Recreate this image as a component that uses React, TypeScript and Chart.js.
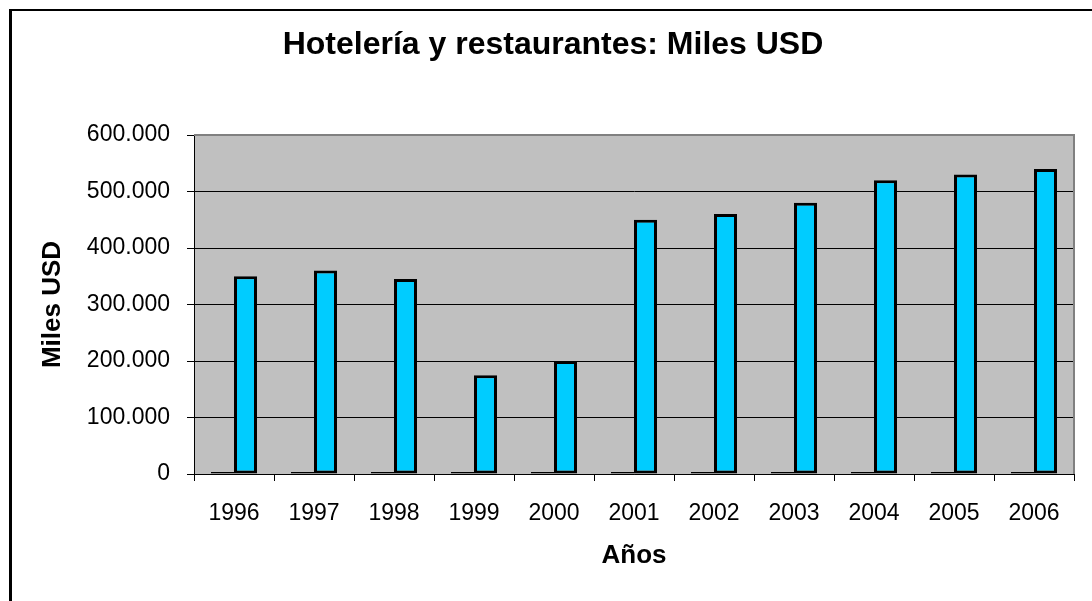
import React, { useEffect, useRef } from "react";
import { Chart, registerables } from "chart.js";

Chart.register(...registerables);

const categories = ["1996", "1997", "1998", "1999", "2000", "2001", "2002", "2003", "2004", "2005", "2006"];
const yearValues = [1996, 1997, 1998, 1999, 2000, 2001, 2002, 2003, 2004, 2005, 2006];
const milesUSD = [350000, 360000, 345000, 175000, 200000, 450000, 460000, 480000, 520000, 530000, 540000];

const chartTitle = "Hotelería y restaurantes: Miles USD";
const yTitle = "Miles USD";
const xTitle = "Años";

const FONT = '"Liberation Sans", Arial, sans-serif';

function fmt(v: number): string {
  const s = Math.round(v).toString();
  return s.replace(/\B(?=(\d{3})+(?!\d))/g, ".");
}

const plotBg = {
  id: "plotBg",
  beforeDraw(chart: any) {
    const { ctx, chartArea } = chart;
    ctx.save();
    ctx.fillStyle = "#C0C0C0";
    ctx.fillRect(chartArea.left, chartArea.top, chartArea.right - chartArea.left, chartArea.bottom - chartArea.top);
    ctx.restore();
  },
  beforeDatasetsDraw(chart: any) {
    const { ctx, chartArea } = chart;
    ctx.save();
    ctx.strokeStyle = "#808080";
    ctx.lineWidth = 2;
    ctx.beginPath();
    ctx.moveTo(chartArea.left, chartArea.top);
    ctx.lineTo(chartArea.right, chartArea.top);
    ctx.lineTo(chartArea.right, chartArea.bottom);
    ctx.stroke();
    ctx.restore();
  },
};

export default function App() {
  const ref = useRef<HTMLCanvasElement | null>(null);
  useEffect(() => {
    if (!ref.current) return;
    const chart = new Chart(ref.current, {
      type: "bar",
      data: {
        labels: categories,
        datasets: [
          {
            label: "Año",
            data: yearValues,
            backgroundColor: "#000000",
            borderColor: "#000000",
            borderWidth: 1,
            borderSkipped: false,
            minBarLength: 2,
            categoryPercentage: 0.575,
            barPercentage: 1,
          },
          {
            label: "Miles USD",
            data: milesUSD,
            backgroundColor: "#00CCFF",
            borderColor: "#000000",
            borderWidth: 3,
            borderSkipped: false,
            categoryPercentage: 0.575,
            barPercentage: 1,
          },
        ],
      },
      options: {
        responsive: false,
        animation: false,
        devicePixelRatio: 1,
        layout: { padding: { left: 32, right: 18, top: 0, bottom: 0 } },
        plugins: {
          legend: { display: false },
          tooltip: { enabled: false },
          title: {
            display: true,
            text: chartTitle,
            color: "#000",
            font: { family: FONT, size: 32, weight: "bold", lineHeight: 1.2 },
            padding: { top: 26, bottom: 70.6 },
          },
        },
        scales: {
          x: {
            grid: {
              display: true,
              drawOnChartArea: false,
              drawTicks: true,
              tickLength: 7,
              color: "#000",
              offset: true,
            },
            border: { display: true, color: "#000", width: 1 },
            ticks: {
              color: "#000",
              font: { family: FONT, size: 23 },
              padding: 19,
              maxRotation: 0,
              autoSkip: false,
            },
            title: {
              display: true,
              text: xTitle,
              color: "#000",
              font: { family: FONT, size: 26, weight: "bold", lineHeight: 1.2 },
              padding: { top: 0, bottom: 29.4 },
            },
            afterFit(scale: any) {
              scale.height = 127;
            },
          },
          y: {
            min: 0,
            max: 600000,
            grid: {
              display: true,
              drawOnChartArea: true,
              drawTicks: true,
              tickLength: 7,
              color: "#000",
              lineWidth: 1,
            },
            border: { display: true, color: "#000", width: 1 },
            ticks: {
              stepSize: 100000,
              color: "#000",
              font: { family: FONT, size: 23 },
              padding: 17,
              callback: (v: any) => fmt(Number(v)),
            },
            title: {
              display: true,
              text: yTitle,
              color: "#000",
              font: { family: FONT, size: 26, weight: "bold", lineHeight: 1.2 },
              padding: { top: 5, bottom: 0 },
            },
            afterFit(scale: any) {
              scale.width = 162;
            },
          },
        },
      },
      plugins: [plotBg],
    });
    return () => chart.destroy();
  }, []);

  return (
    <div style={{ position: "fixed", left: 0, top: 0, width: 1092, height: 601, background: "#fff", overflow: "hidden" }}>
      <div
        style={{
          position: "absolute",
          left: 9,
          top: 9,
          width: 1200,
          height: 700,
          borderLeft: "3px solid #000",
          borderTop: "2px solid #000",
          boxSizing: "border-box",
        }}
      />
      <canvas ref={ref} width={1092} height={601} style={{ position: "absolute", left: 0, top: 0, width: 1092, height: 601 }} />
    </div>
  );
}
